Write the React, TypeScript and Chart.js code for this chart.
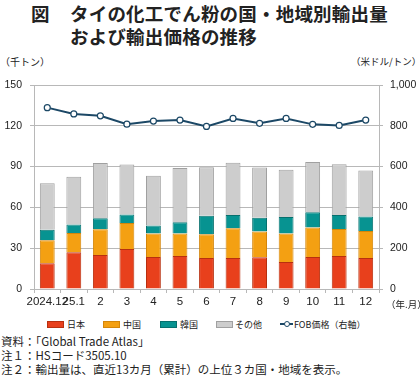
import React, { useEffect, useRef } from "react";
import { Chart, registerables } from "chart.js";

Chart.register(...registerables);

const categories = ["2024.12", "25.1", "2", "3", "4", "5", "6", "7", "8", "9", "10", "11", "12"];
const japan = [18.9, 27.0, 25.0, 29.5, 23.6, 24.3, 22.8, 22.8, 23.3, 19.9, 23.6, 24.3, 22.8];
const china = [16.9, 14.2, 18.9, 19.1, 17.2, 16.5, 17.5, 21.9, 18.9, 20.9, 21.6, 19.9, 19.9];
const korea = [7.7, 6.2, 8.1, 6.1, 5.8, 8.3, 13.5, 9.8, 10.1, 12.2, 11.3, 10.3, 10.6];
const others = [34.3, 35.1, 40.6, 36.9, 36.6, 39.8, 35.8, 38.3, 37.1, 34.6, 36.8, 37.3, 33.9];
const fobPrice = [889, 858, 849, 808, 823, 828, 797, 836, 812, 836, 807, 802, 828];

const leftTicks = { min: 0, max: 150, step: 30 };
const rightTicks = { min: 0, max: 1000, step: 200 };

const GRID = "#b8b8b8";
const TEXT = "#222";
const JP = "'Noto Sans CJK JP', sans-serif";

const seriesStyle = [
  { label: "日本", data: japan, bg: "#E8401C", border: "#B8300F" },
  { label: "中国", data: china, bg: "#F4A012", border: "#D4860A" },
  { label: "韓国", data: korea, bg: "#079391", border: "#06706E" },
  { label: "その他", data: others, bg: "#CDCDCD", border: "#A0A0A0" },
];

export default function App() {
  const ref = useRef<HTMLCanvasElement | null>(null);

  useEffect(() => {
    if (!ref.current) return;
    const chart = new Chart(ref.current, {
      type: "bar",
      data: {
        labels: categories,
        datasets: [
          {
            type: "line",
            label: "FOB価格（右軸）",
            data: fobPrice,
            yAxisID: "y1",
            borderColor: "#1C4866",
            borderWidth: 2,
            pointRadius: 3,
            pointBackgroundColor: "#ffffff",
            pointBorderColor: "#1C4866",
            pointBorderWidth: 1.2,
            tension: 0,
            order: 0,
          } as any,
          ...seriesStyle.map((s) => ({
            type: "bar" as const,
            label: s.label,
            data: s.data,
            yAxisID: "y",
            backgroundColor: s.bg,
            borderColor: s.border,
            borderWidth: 1,
            barPercentage: 0.56,
            categoryPercentage: 1,
            order: 1,
          })),
        ],
      },
      options: {
        responsive: false,
        animation: false,
        layout: { padding: { top: 15, left: 0, right: 0, bottom: 0 } },
        plugins: { legend: { display: false }, tooltip: { enabled: false } },
        scales: {
          x: {
            stacked: true,
            grid: {
              display: true,
              drawOnChartArea: false,
              drawTicks: true,
              tickLength: 4,
              color: GRID,
              offset: true,
            },
            border: { display: true, color: GRID },
            ticks: {
              autoSkip: false,
              maxRotation: 0,
              minRotation: 0,
              padding: 2,
              color: TEXT,
              font: { family: "'Liberation Sans', Arial, sans-serif", size: 11.5 },
            },
            afterFit: (scale: any) => {
              scale.height = 26;
            },
          },
          y: {
            stacked: true,
            position: "left",
            min: leftTicks.min,
            max: leftTicks.max,
            ticks: {
              stepSize: leftTicks.step,
              padding: 8,
              color: TEXT,
              font: { family: "'Liberation Sans', Arial, sans-serif", size: 10.5 },
            },
            grid: { color: GRID, tickLength: 4, lineWidth: 1 },
            border: { display: true, color: GRID },
            afterFit: (scale: any) => {
              scale.width = 34;
            },
          },
          y1: {
            position: "right",
            min: rightTicks.min,
            max: rightTicks.max,
            ticks: {
              stepSize: rightTicks.step,
              padding: 7,
              color: TEXT,
              font: { family: "'Liberation Sans', Arial, sans-serif", size: 10.5 },
            },
            grid: { drawOnChartArea: false, tickLength: 4, color: GRID },
            border: { display: true, color: GRID },
            afterFit: (scale: any) => {
              scale.width = 41;
            },
          },
        },
      },
    });
    return () => chart.destroy();
  }, []);

  const abs = (left: number, top: number, extra: React.CSSProperties = {}): React.CSSProperties => ({
    position: "absolute",
    left,
    top,
    whiteSpace: "nowrap",
    fontFamily: JP,
    color: TEXT,
    lineHeight: 1,
    ...extra,
  });

  const legendItems = [
    { x: 47, textX: 67, label: "日本", bg: "#E8401C", border: "#B8300F" },
    { x: 103, textX: 123, label: "中国", bg: "#F4A012", border: "#D4860A" },
    { x: 160, textX: 180, label: "韓国", bg: "#079391", border: "#06706E" },
    { x: 216, textX: 235, label: "その他", bg: "#CDCDCD", border: "#A0A0A0" },
  ];

  return (
    <div style={{ position: "fixed", left: 0, top: 0, width: 420, height: 378, background: "#fff", overflow: "hidden" }}>
      <div style={abs(31, 4, { fontSize: 18.5, fontWeight: "bold" })}>図</div>
      <div style={abs(70, 4, { fontSize: 18.5, fontWeight: "bold", letterSpacing: 0.2 })}>タイの化工でん粉の国・地域別輸出量</div>
      <div style={abs(70, 27, { fontSize: 18.5, fontWeight: "bold", letterSpacing: 0.2 })}>および輸出価格の推移</div>

      <div style={abs(0, 57, { fontSize: 10 })}>（千トン）</div>
      <div style={abs(351, 57, { fontSize: 9.5 })}>（米ドル/トン）</div>

      <canvas ref={ref} width={420} height={245} style={{ position: "absolute", left: 0, top: 70, width: 420, height: 245 }} />

      <div style={abs(386, 300, { fontSize: 9.5 })}>（年.月）</div>

      {legendItems.map((it) => (
        <React.Fragment key={it.label}>
          <div
            style={{
              position: "absolute",
              left: it.x,
              top: 321,
              width: 15,
              height: 5,
              background: it.bg,
              border: `1px solid ${it.border}`,
            }}
          />
          <div style={abs(it.textX, 319.5, { fontSize: 9 })}>{it.label}</div>
        </React.Fragment>
      ))}
      <div style={{ position: "absolute", left: 280, top: 323, width: 13, height: 2, background: "#1C4866" }} />
      <div
        style={{
          position: "absolute",
          left: 283.5,
          top: 321,
          width: 4,
          height: 4,
          borderRadius: "50%",
          background: "#fff",
          border: "1px solid #1C4866",
        }}
      />
      <div style={abs(294, 319.5, { fontSize: 9 })}>FOB価格（右軸）</div>

      <div style={abs(1, 336, { fontSize: 11.5 })}>資料：「Global Trade Atlas」</div>
      <div style={abs(1, 350, { fontSize: 11.5 })}>注１：HSコード3505.10</div>
      <div style={abs(1, 364, { fontSize: 11.5 })}>注２：輸出量は、直近13カ月（累計）の上位３カ国・地域を表示。</div>
    </div>
  );
}
